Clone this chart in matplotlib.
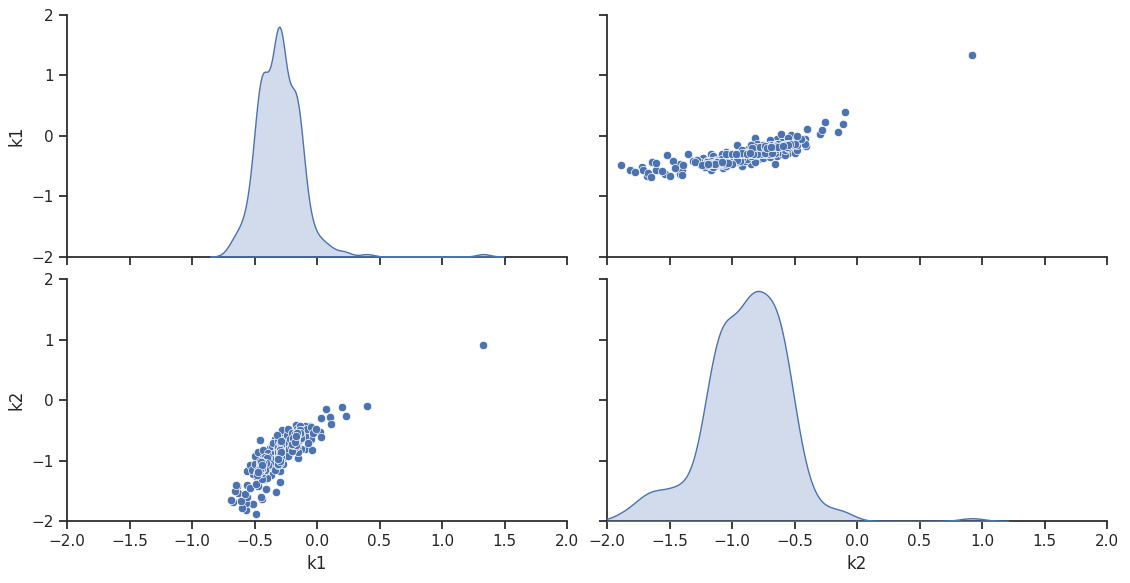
import matplotlib
matplotlib.use("Agg")
import matplotlib.pyplot as plt
import seaborn as sns
import pandas as pd

k1 = [
    -0.67, -0.57, -0.485, -0.51, -0.57, -0.64, -0.63, -0.56, -0.44, -0.325,
    -0.56, -0.47, -0.41, -0.30, -0.42, -0.365, -0.485, -0.56, -0.535, -0.50,
    -0.46, -0.47, -0.405, -0.30, -0.38, -0.32, -0.27, -0.38, -0.335, -0.32,
    -0.30, -0.26, -0.20, -0.22, -0.17, -0.135, -0.15, -0.095, -0.04, -0.06,
    -0.095, -0.05, 0.02, 0.035, 0.035, 0.07, 0.10, 0.11, 0.20, 0.23,
    0.40, 1.33,
    -0.60, -0.61, -0.69, -0.45, -0.58, -0.66, -0.54, -0.65, -0.49, -0.43,
    -0.45, -0.44, -0.43, -0.42, -0.42, -0.41, -0.40, -0.40, -0.44, -0.46,
    -0.43, -0.39,
    -0.37, -0.36, -0.35, -0.34, -0.36, -0.34, -0.33, -0.35,
    -0.32, -0.31, -0.31, -0.30, -0.30, -0.30, -0.29, -0.29, -0.29, -0.28,
    -0.28, -0.28, -0.27, -0.27, -0.31, -0.30, -0.29, -0.28, -0.32, -0.27,
    -0.25, -0.24, -0.24, -0.23, -0.22, -0.21, -0.20, -0.23,
    -0.17, -0.16, -0.16, -0.15, -0.14, -0.14, -0.13, -0.12, -0.15,
    -0.10, -0.08, -0.07, -0.05, -0.03, -0.01,
    # dense core (hidden by overlap)
    -0.44, -0.43, -0.43, -0.42, -0.42, -0.42, -0.41, -0.41, -0.40, -0.40,
    -0.44, -0.45, -0.43, -0.41, -0.42, -0.39, -0.40, -0.43, -0.41, -0.42,
    -0.30, -0.30, -0.30, -0.29, -0.29, -0.30, -0.31, -0.30, -0.30, -0.29,
    -0.31, -0.30, -0.29, -0.31, -0.30, -0.30, -0.29, -0.30, -0.31, -0.30,
    -0.29, -0.30, -0.30, -0.31, -0.30, -0.29, -0.31, -0.30, -0.29, -0.31,
    -0.30, -0.31, -0.30, -0.29, -0.31, -0.30, -0.30, -0.31, -0.29, -0.30,
    -0.18, -0.17, -0.16, -0.17, -0.19, -0.16, -0.18, -0.16, -0.20, -0.17,
    -0.19, -0.16,
    -0.16, -0.15, -0.15, -0.14, -0.16, -0.15, -0.14, -0.16, -0.15, -0.13,
    -0.17, -0.15, -0.14, -0.16, -0.15, -0.13, -0.17, -0.14,
    -0.30, -0.31, -0.29, -0.30, -0.31, -0.29, -0.30, -0.30, -0.29, -0.31,
    -0.50, -0.49, -0.51, -0.48, -0.52, -0.50,
    -0.46, -0.45, -0.44, -0.47, -0.45, -0.46, -0.44, -0.45, -0.47, -0.46,
    -0.45, -0.44, -0.48, -0.46, -0.45, -0.43, -0.47, -0.45, -0.46, -0.44,
    -0.48, -0.45, -0.46, -0.44, -0.47,
    -0.18, -0.17, -0.19, -0.18, -0.16, -0.19, -0.17, -0.18, -0.20, -0.17,
    -0.18, -0.19, -0.16, -0.18, -0.17,
]
k2 = [
    -1.68, -1.82, -1.89, -1.72, -1.71, -1.42, -1.54, -1.61, -1.64, -1.52,
    -1.40, -1.42, -1.47, -1.35, -1.31, -1.23, -1.25, -1.17, -1.07, -0.92,
    -0.66, -0.85, -1.11, -1.17, -0.97, -1.03, -1.05, -0.79, -0.64, -0.88,
    -0.76, -0.54, -0.64, -0.87, -0.41, -0.54, -0.96, -0.81, -0.82, -0.42,
    -0.43, -0.64, -0.53, -0.61, -0.30, -0.15, -0.28, -0.40, -0.11, -0.26,
    -0.10, 0.92,
    -1.78, -1.67, -1.65, -1.61, -1.56, -1.50, -1.46, -1.40, -1.39, -1.26,
    -1.15, -1.02, -0.95, -1.20, -1.05, -0.90, -1.00, -1.28, -1.30, -1.08,
    -0.82, -0.88,
    -1.10, -0.92, -1.00, -0.85, -0.75, -1.15, -0.95, -0.70,
    -0.80, -0.92, -0.68, -0.85, -1.00, -0.60, -0.78, -0.90, -0.55, -0.70,
    -0.95, -0.83, -0.62, -0.75, -1.08, -0.72, -0.66, -0.50, -0.58, -0.88,
    -0.70, -0.58, -0.82, -0.48, -0.65, -0.75, -0.55, -0.92,
    -0.60, -0.48, -0.72, -0.55, -0.42, -0.66, -0.80, -0.50, -0.85,
    -0.60, -0.48, -0.70, -0.45, -0.55, -0.48,
    # dense core (hidden by overlap)
    -1.12, -1.05, -1.15, -1.08, -1.18, -0.98, -1.10, -1.02, -1.13, -1.06,
    -1.20, -1.10, -1.00, -1.14, -0.94, -1.08, -0.96, -1.11, -1.04, -1.16,
    -0.82, -0.85, -0.80, -0.88, -0.78, -0.83, -0.90, -0.76, -0.86, -0.81,
    -0.92, -0.79, -0.84, -0.87, -0.75, -0.82, -0.89, -0.77, -0.94, -0.84,
    -0.80, -0.86, -0.72, -0.83, -0.88, -0.79, -0.97, -0.81, -0.85, -0.78,
    -0.70, -1.00, -0.91, -0.74, -0.86, -0.80, -0.83, -0.95, -0.68, -1.04,
    -0.72, -0.68, -0.75, -0.65, -0.80, -0.62, -0.78, -0.70, -0.84, -0.66,
    -0.74, -0.60,
    -0.62, -0.58, -0.66, -0.55, -0.70, -0.60, -0.64, -0.52, -0.68, -0.57,
    -0.74, -0.61, -0.50, -0.65, -0.56, -0.63, -0.59, -0.54,
    -0.95, -1.02, -0.90, -0.98, -1.05, -0.92, -0.88, -1.00, -0.86, -0.97,
    -1.18, -1.12, -1.22, -1.08, -1.15, -1.05,
    -1.10, -1.05, -1.14, -1.18, -1.08, -1.12, -1.02, -1.16, -1.22, -1.06,
    -1.13, -1.09, -1.20, -1.00, -1.11, -1.04, -1.15, -1.07, -1.17, -1.12,
    -1.24, -1.03, -1.14, -1.08, -1.19,
    -0.64, -0.60, -0.68, -0.62, -0.58, -0.70, -0.66, -0.56, -0.72, -0.61,
    -0.67, -0.63, -0.55, -0.69, -0.59,
]

sns.set_theme(style="ticks")
df = pd.DataFrame({"k1": k1, "k2": k2})
g = sns.pairplot(df, diag_kind="kde", height=2.915, aspect=1.94,
                 diag_kws={"bw_adjust": 0.9})
g.set(xlim=(-2, 2), ylim=(-2, 2))
g.figure.set_size_inches(11.3, 5.83)
g.figure.subplots_adjust(left=67 / 1130, right=1107 / 1130,
                         bottom=62 / 583, top=1 - 15 / 583,
                         wspace=0.08, hspace=0.095)
g.figure.savefig("out.png", dpi=100)
